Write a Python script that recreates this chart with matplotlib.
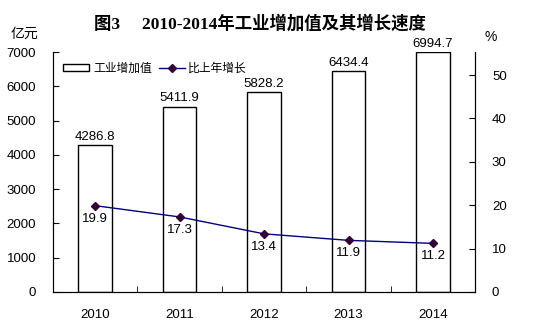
import matplotlib.pyplot as plt
from matplotlib.ticker import FixedLocator
import numpy as np

plt.rcParams['font.family'] = ['Liberation Sans', 'Noto Sans CJK SC']

years = ['2010', '2011', '2012', '2013', '2014']
value_added = [4286.8, 5411.9, 5828.2, 6434.4, 6994.7]
growth = [19.9, 17.3, 13.4, 11.9, 11.2]

fig = plt.figure(figsize=(5.45, 3.36), dpi=100)
ax = fig.add_axes([0.097, 0.131, 0.775, 0.714])
x = np.arange(len(years))

# 柱子：工业增加值
bars = ax.bar(x, value_added, width=0.4, color='white', edgecolor='black',
              linewidth=1.0, label='工业增加值', zorder=2)
for xi, v in zip(x, value_added):
    ax.text(xi, v + 60, f'{v:.1f}', ha='center', va='bottom', fontsize=9.5)

ax.set_xlim(-0.5, len(years) - 0.5)
ax.set_ylim(0, 7000)
ax.set_yticks(range(0, 7001, 1000))
ax.set_xticks(x)
ax.set_xticklabels(years)
ax.xaxis.set_minor_locator(FixedLocator(np.arange(0.5, len(years) - 0.5, 1)))
ax.tick_params(axis='x', which='major', length=0, pad=12, labelsize=9.5)
ax.tick_params(axis='x', which='minor', direction='in', length=4)
ax.tick_params(axis='y', direction='in', length=4, pad=12, labelsize=9.5)
ax.spines['top'].set_visible(False)

# 折线：比上年增长
ax2 = ax.twinx()
line, = ax2.plot(x, growth, color='#000080', linewidth=1.0, marker='D',
                 markersize=4, markerfacecolor='#330033', markeredgecolor='#330033',
                 label='比上年增长', zorder=3)
for xi, g in zip(x, growth):
    ax2.text(xi, g - 1.6, f'{g:.1f}', ha='center', va='top', fontsize=9.5)
ax2.set_ylim(0, 55.3)
ax2.set_yticks(range(0, 51, 10))
ax2.tick_params(axis='y', direction='in', length=4, pad=12, labelsize=9.5)
ax2.spines['top'].set_visible(False)

ax2.legend([bars, line], ['工业增加值', '比上年增长'], loc='upper left',
           bbox_to_anchor=(0.0, 1.0), ncol=2, frameon=False, fontsize=8.5,
           handlelength=2.2, handleheight=0.5, columnspacing=0.6, handletextpad=0.3,
           borderpad=0.4)

fig.text(0.045, 0.9, '亿元', ha='center', va='center', fontsize=10)
fig.text(0.9, 0.89, '%', ha='center', va='center', fontsize=10)
fig.text(0.477, 0.93, '图3     2010-2014年工业增加值及其增长速度', ha='center', va='center',
         fontsize=12.5, fontweight='bold', family=['Liberation Serif', 'Noto Sans CJK SC'])

fig.savefig('out.png', dpi=100)
